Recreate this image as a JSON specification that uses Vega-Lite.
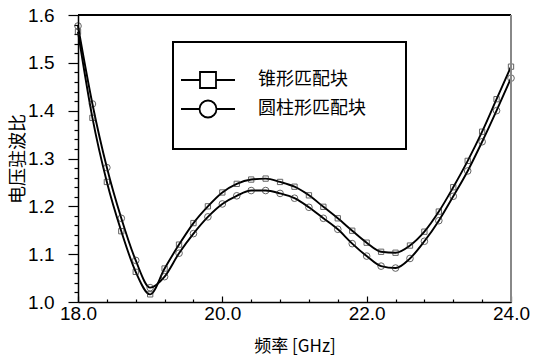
{
  "$schema": "https://vega.github.io/schema/vega-lite/v6.json",
  "width": 433,
  "height": 287,
  "autosize": "none",
  "padding": {"left": 78, "top": 15, "right": 34, "bottom": 58},
  "background": "white",
  "config": {
    "view": {"stroke": null},
    "axis": {
      "domainColor": "black", "domainWidth": 1.5, "tickColor": "black", "tickWidth": 1.2,
      "grid": false, "labelFont": "Liberation Sans", "labelFontSize": 19, "labelColor": "black",
      "titleFont": "Noto Sans CJK SC", "titleFontSize": 17, "titleFontWeight": "normal", "titleColor": "black"
    },
    "legend": {
      "orient": "none", "legendX": 95, "legendY": 27, "padding": 27,
      "strokeColor": "black", "strokeWidth": 2, "fillColor": "white",
      "labelFont": "Noto Sans CJK SC", "labelFontSize": 18, "labelColor": "black",
      "labelOffset": 36, "rowPadding": 4, "symbolSize": 400, "symbolOpacity": 1,
      "symbolStrokeWidth": 1.8, "symbolStrokeColor": "black", "symbolFillColor": "white"
    }
  },
  "data": {"values": [
    {"f": 18.0, "v": 1.565, "s": "锥形匹配块"},
    {"f": 18.2, "v": 1.385, "s": "锥形匹配块"},
    {"f": 18.4, "v": 1.251, "s": "锥形匹配块"},
    {"f": 18.6, "v": 1.148, "s": "锥形匹配块"},
    {"f": 18.8, "v": 1.063, "s": "锥形匹配块"},
    {"f": 19.0, "v": 1.016, "s": "锥形匹配块"},
    {"f": 19.2, "v": 1.070, "s": "锥形匹配块"},
    {"f": 19.4, "v": 1.120, "s": "锥形匹配块"},
    {"f": 19.6, "v": 1.165, "s": "锥形匹配块"},
    {"f": 19.8, "v": 1.200, "s": "锥形匹配块"},
    {"f": 20.0, "v": 1.229, "s": "锥形匹配块"},
    {"f": 20.2, "v": 1.247, "s": "锥形匹配块"},
    {"f": 20.4, "v": 1.256, "s": "锥形匹配块"},
    {"f": 20.6, "v": 1.258, "s": "锥形匹配块"},
    {"f": 20.8, "v": 1.251, "s": "锥形匹配块"},
    {"f": 21.0, "v": 1.241, "s": "锥形匹配块"},
    {"f": 21.2, "v": 1.223, "s": "锥形匹配块"},
    {"f": 21.4, "v": 1.199, "s": "锥形匹配块"},
    {"f": 21.6, "v": 1.175, "s": "锥形匹配块"},
    {"f": 21.8, "v": 1.149, "s": "锥形匹配块"},
    {"f": 22.0, "v": 1.124, "s": "锥形匹配块"},
    {"f": 22.2, "v": 1.105, "s": "锥形匹配块"},
    {"f": 22.4, "v": 1.103, "s": "锥形匹配块"},
    {"f": 22.6, "v": 1.118, "s": "锥形匹配块"},
    {"f": 22.8, "v": 1.147, "s": "锥形匹配块"},
    {"f": 23.0, "v": 1.189, "s": "锥形匹配块"},
    {"f": 23.2, "v": 1.240, "s": "锥形匹配块"},
    {"f": 23.4, "v": 1.295, "s": "锥形匹配块"},
    {"f": 23.6, "v": 1.356, "s": "锥形匹配块"},
    {"f": 23.8, "v": 1.424, "s": "锥形匹配块"},
    {"f": 24.0, "v": 1.492, "s": "锥形匹配块"},
    {"f": 18.0, "v": 1.577, "s": "圆柱形匹配块"},
    {"f": 18.2, "v": 1.414, "s": "圆柱形匹配块"},
    {"f": 18.4, "v": 1.281, "s": "圆柱形匹配块"},
    {"f": 18.6, "v": 1.175, "s": "圆柱形匹配块"},
    {"f": 18.8, "v": 1.087, "s": "圆柱形匹配块"},
    {"f": 19.0, "v": 1.030, "s": "圆柱形匹配块"},
    {"f": 19.2, "v": 1.053, "s": "圆柱形匹配块"},
    {"f": 19.4, "v": 1.102, "s": "圆柱形匹配块"},
    {"f": 19.6, "v": 1.143, "s": "圆柱形匹配块"},
    {"f": 19.8, "v": 1.178, "s": "圆柱形匹配块"},
    {"f": 20.0, "v": 1.205, "s": "圆柱形匹配块"},
    {"f": 20.2, "v": 1.222, "s": "圆柱形匹配块"},
    {"f": 20.4, "v": 1.233, "s": "圆柱形匹配块"},
    {"f": 20.6, "v": 1.233, "s": "圆柱形匹配块"},
    {"f": 20.8, "v": 1.227, "s": "圆柱形匹配块"},
    {"f": 21.0, "v": 1.217, "s": "圆柱形匹配块"},
    {"f": 21.2, "v": 1.198, "s": "圆柱形匹配块"},
    {"f": 21.4, "v": 1.175, "s": "圆柱形匹配块"},
    {"f": 21.6, "v": 1.152, "s": "圆柱形匹配块"},
    {"f": 21.8, "v": 1.122, "s": "圆柱形匹配块"},
    {"f": 22.0, "v": 1.096, "s": "圆柱形匹配块"},
    {"f": 22.2, "v": 1.075, "s": "圆柱形匹配块"},
    {"f": 22.4, "v": 1.071, "s": "圆柱形匹配块"},
    {"f": 22.6, "v": 1.091, "s": "圆柱形匹配块"},
    {"f": 22.8, "v": 1.127, "s": "圆柱形匹配块"},
    {"f": 23.0, "v": 1.170, "s": "圆柱形匹配块"},
    {"f": 23.2, "v": 1.221, "s": "圆柱形匹配块"},
    {"f": 23.4, "v": 1.274, "s": "圆柱形匹配块"},
    {"f": 23.6, "v": 1.335, "s": "圆柱形匹配块"},
    {"f": 23.8, "v": 1.400, "s": "圆柱形匹配块"},
    {"f": 24.0, "v": 1.468, "s": "圆柱形匹配块"}
  ]},
  "encoding": {
    "x": {
      "field": "f", "type": "quantitative",
      "scale": {"domain": [18, 24], "nice": false, "zero": false},
      "axis": {
        "title": "频率 [GHz]", "titlePadding": 12,
        "values": [18, 18.4, 18.8, 19.2, 19.6, 20, 20.4, 20.8, 21.2, 21.6, 22, 22.4, 22.8, 23.2, 23.6, 24],
        "labelExpr": "abs(datum.value/2 - round(datum.value/2)) < 0.001 ? format(datum.value, '.1f') : ''",
        "labelFlush": false, "labelOverlap": false, "labelPadding": 8,
        "tickSize": {"condition": {"test": "abs(datum.value/2 - round(datum.value/2)) < 0.001", "value": -6}, "value": -3}
      }
    },
    "y": {
      "field": "v", "type": "quantitative",
      "scale": {"domain": [1.0, 1.6], "nice": false, "zero": false},
      "axis": {
        "title": "电压驻波比", "titlePadding": 0, "titleFontSize": 18,
        "values": [1.0, 1.02, 1.04, 1.06, 1.08, 1.1, 1.12, 1.14, 1.16, 1.18, 1.2, 1.22, 1.24, 1.26, 1.28, 1.3, 1.32, 1.34, 1.36, 1.38, 1.4, 1.42, 1.44, 1.46, 1.48, 1.5, 1.52, 1.54, 1.56, 1.58, 1.6],
        "labelExpr": "abs(datum.value*10 - round(datum.value*10)) < 0.001 ? format(datum.value, '.1f') : ''",
        "labelFlush": false, "labelOverlap": false, "labelPadding": 14,
        "tickSize": {"condition": {"test": "abs(datum.value*10 - round(datum.value*10)) < 0.001", "value": 10}, "value": 4}
      }
    }
  },
  "layer": [
    {
      "mark": {"type": "line", "color": "black", "strokeWidth": 1.9, "interpolate": "monotone"},
      "encoding": {"detail": {"field": "s", "type": "nominal"}}
    },
    {
      "mark": {"type": "point", "filled": false, "color": "#222", "strokeWidth": 1},
      "encoding": {
        "shape": {
          "field": "s", "type": "nominal",
          "scale": {"domain": ["锥形匹配块", "圆柱形匹配块"], "range": ["square", "circle"]},
          "legend": null
        },
        "size": {
          "field": "s", "type": "nominal",
          "scale": {"domain": ["锥形匹配块", "圆柱形匹配块"], "range": [28, 44]},
          "legend": null
        }
      }
    },
    {
      "mark": {"type": "point", "filled": false, "color": "black", "opacity": 0},
      "encoding": {
        "shape": {
          "field": "s", "type": "nominal",
          "scale": {"domain": ["锥形匹配块", "圆柱形匹配块"], "range": [
            "M-3,0H-1.1M0.5,0H2.4M-1.1,-0.8H0.5V0.8H-1.1Z",
            "M-3,0H-1.15M0.55,0H2.4M0.55,0A0.85,0.85,0,1,1,-1.15,0A0.85,0.85,0,1,1,0.55,0Z"
          ]},
          "legend": {"title": null, "labelExpr": "datum.label + '\u2800'"}
        }
      }
    },
    {
      "mark": {"type": "rule", "color": "black", "strokeWidth": 1.5},
      "encoding": {"y": {"datum": 1.6}, "x": {"datum": 18}, "x2": {"datum": 24}}
    },
    {
      "mark": {"type": "rule", "color": "#888888", "strokeWidth": 2},
      "encoding": {"x": {"datum": 24}, "y": {"datum": 1.0}, "y2": {"datum": 1.6}}
    }
  ],
  "resolve": {"scale": {"shape": "independent", "size": "independent"}}
}
